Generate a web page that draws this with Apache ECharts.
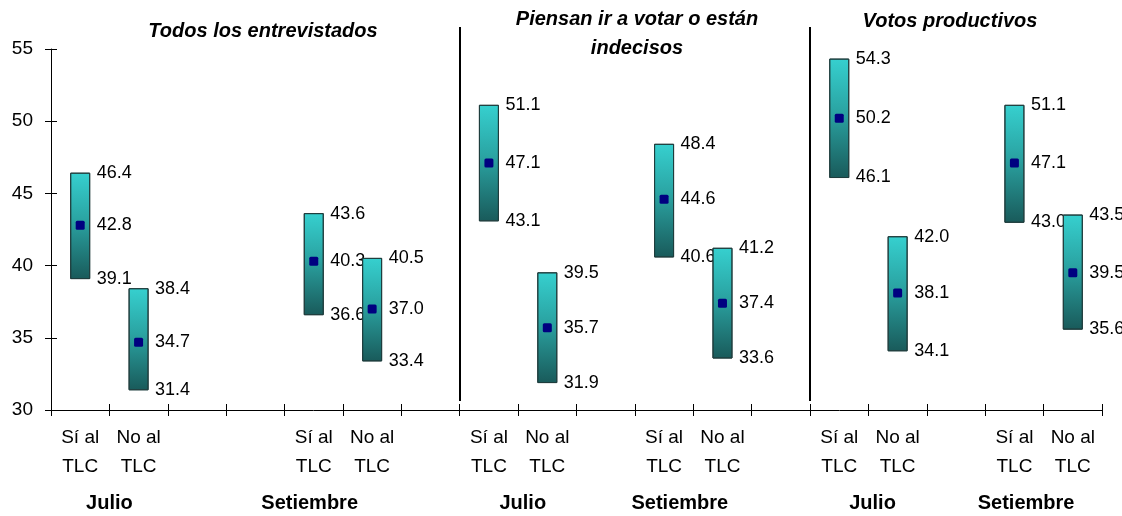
<!DOCTYPE html>
<html>
<head>
<meta charset="utf-8">
<script src="https://cdn.jsdelivr.net/npm/echarts@6/dist/echarts.min.js"></script>
<style>
  html, body { margin: 0; padding: 0; background: #fff; }
  #chart { width: 1122px; height: 516px; }
</style>
</head>
<body>
<div id="chart"></div>
<script>
"use strict";

// Categories along the axis (empty ones are the gaps between groups)
const categories = [
  "Sí al\nTLC", "No al\nTLC", "", "", "Sí al\nTLC", "No al\nTLC", "",
  "Sí al\nTLC", "No al\nTLC", "", "Sí al\nTLC", "No al\nTLC", "",
  "Sí al\nTLC", "No al\nTLC", "", "Sí al\nTLC", "No al\nTLC"
];

// Upper limit, estimate and lower limit per category
const highs = [46.4, 38.4, null, null, 43.6, 40.5, null, 51.1, 39.5, null, 48.4, 41.2, null, 54.3, 42.0, null, 51.1, 43.5];
const mids  = [42.8, 34.7, null, null, 40.3, 37.0, null, 47.1, 35.7, null, 44.6, 37.4, null, 50.2, 38.1, null, 47.1, 39.5];
const lows  = [39.1, 31.4, null, null, 36.6, 33.4, null, 43.1, 31.9, null, 40.6, 33.6, null, 46.1, 34.1, null, 43.0, 35.6];

// Month labels under each pair
const groupNames = ["Julio", "Setiembre", "Julio", "Setiembre", "Julio", "Setiembre"];
const panelTitles = ["Todos los entrevistados", "Piensan ir a votar o están\nindecisos", "Votos productivos"];

// Layout helpers (axis units on a 0..18 scale)
const groupLabelAt = [1.0, 4.43, 8.08, 10.77, 14.07, 16.7];
const dividerAt = [7, 13];

const FONT = "'Liberation Sans', Arial, sans-serif";
const BAR_W = 19;

const seriesData = [];
categories.forEach(function (c, i) {
  if (highs[i] == null) return;
  seriesData.push([i, lows[i], mids[i], highs[i]]);
});

function labelText(x, y, v) {
  return {
    type: "text",
    x: x,
    y: y,
    style: {
      text: v.toFixed(1),
      fill: "#000",
      font: "18px " + FONT,
      align: "left",
      verticalAlign: "middle"
    }
  };
}

function renderItem(params, api) {
  const idx = api.value(0);
  const top = api.coord([idx, api.value(3)]);
  const mid = api.coord([idx, api.value(2)]);
  const bot = api.coord([idx, api.value(1)]);
  const tx = top[0] + BAR_W / 2 + 7;
  return {
    type: "group",
    children: [
      {
        type: "rect",
        shape: { x: top[0] - BAR_W / 2, y: top[1], width: BAR_W, height: bot[1] - top[1] },
        style: {
          fill: new echarts.graphic.LinearGradient(0, 0, 0, 1, [
            { offset: 0, color: "#36d0cf" },
            { offset: 0.45, color: "#2aa3a2" },
            { offset: 1, color: "#195a5a" }
          ]),
          stroke: "#1f3d3d",
          lineWidth: 1
        }
      },
      {
        type: "rect",
        shape: { x: mid[0] - 4.5, y: mid[1] - 4.5, width: 9, height: 9, r: 1.5 },
        style: { fill: "#000080" }
      },
      labelText(tx, top[1], api.value(3)),
      labelText(tx, mid[1], api.value(2)),
      labelText(tx, bot[1], api.value(1))
    ]
  };
}

const chart = echarts.init(document.getElementById("chart"));

const grid = { left: 51, right: 20, top: 49, bottom: 106 };

chart.setOption({
  animation: false,
  grid: grid,
  xAxis: [
    {
      type: "category",
      position: "bottom",
      data: categories,
      axisLine: { lineStyle: { color: "#000", width: 1 } },
      axisTick: { show: true, length: 6, lineStyle: { color: "#000" } },
      axisLabel: {
        interval: 0,
        color: "#000",
        fontFamily: FONT,
        fontSize: 19,
        lineHeight: 29,
        margin: 13
      }
    },
    {
      type: "category",
      position: "bottom",
      data: categories,
      axisLine: { show: false },
      axisTick: { show: true, inside: true, length: 6, lineStyle: { color: "#000" } },
      axisLabel: { show: false }
    },
    {
      type: "value",
      min: 0,
      max: 18,
      position: "bottom",
      axisLine: { show: false },
      axisTick: { show: false },
      splitLine: { show: false },
      axisLabel: {
        customValues: groupLabelAt,
        formatter: function (v) {
          const k = groupLabelAt.indexOf(v);
          return k >= 0 ? groupNames[k] : "";
        },
        color: "#000",
        fontFamily: FONT,
        fontSize: 20,
        fontWeight: "bold",
        lineHeight: 22,
        margin: 82
      }
    }
  ],
  yAxis: [
    {
      type: "value",
      min: 30,
      max: 55,
      interval: 5,
      position: "left",
      axisLine: { show: true, lineStyle: { color: "#000", width: 1 } },
      axisTick: { show: true, length: 6, lineStyle: { color: "#000" } },
      splitLine: { show: false },
      axisLabel: { color: "#000", fontFamily: FONT, fontSize: 19, margin: 18 }
    },
    {
      type: "value",
      min: 30,
      max: 55,
      interval: 5,
      position: "left",
      axisLine: { show: false },
      axisTick: { show: true, inside: true, length: 6, lineStyle: { color: "#000" } },
      splitLine: { show: false },
      axisLabel: { show: false }
    }
  ],
  series: [
    {
      type: "custom",
      xAxisIndex: 0,
      yAxisIndex: 0,
      renderItem: renderItem,
      data: seriesData,
      encode: { x: 0, y: [1, 2, 3] }
    }
  ]
});

// Panel titles and divider lines, placed from the value axis
const titleX = [263, 637, 950];
const titleY = [31, 34, 21];
const graphics = [];
panelTitles.forEach(function (t, i) {
  graphics.push({
    type: "text",
    x: titleX[i],
    y: titleY[i],
    style: {
      text: t,
      fill: "#000",
      font: "italic bold 20px " + FONT,
      lineHeight: 29,
      align: "center",
      verticalAlign: "middle"
    }
  });
});
dividerAt.forEach(function (v) {
  const px = Math.round(chart.convertToPixel({ xAxisIndex: 2 }, v));
  graphics.push({
    type: "line",
    shape: { x1: px, y1: 27, x2: px, y2: 401 },
    style: { stroke: "#000", lineWidth: 2 }
  });
});
chart.setOption({ graphic: graphics });
</script>
</body>
</html>
